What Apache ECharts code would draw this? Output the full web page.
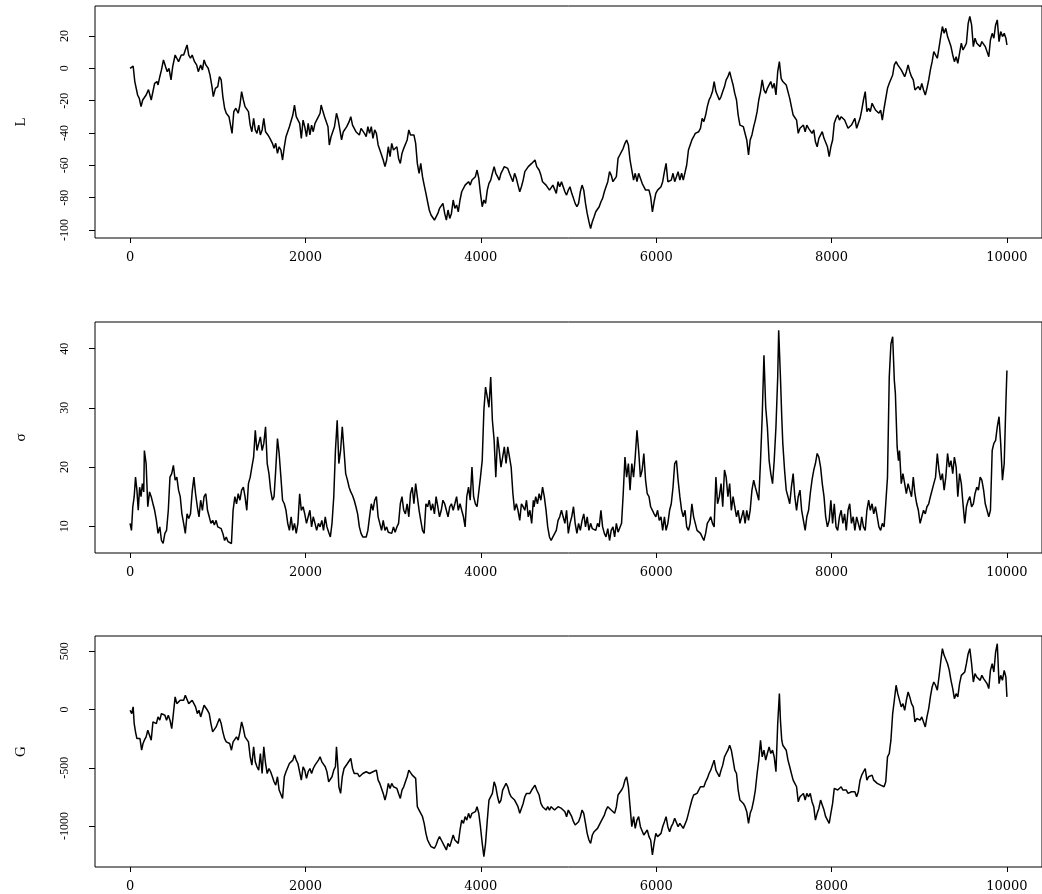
<!DOCTYPE html>
<html>
<head>
<meta charset="utf-8">
<script src="https://cdn.jsdelivr.net/npm/echarts@6/dist/echarts.min.js"></script>
<style>
html,body{margin:0;padding:0;background:#fff;}
#chart{width:1042px;height:894px;}
</style>
</head>
<body>
<div id="chart"></div>
<script>
// ---- data: [index, value] ----
const seriesL = [[0,0],[19,-1],[35,1.4],[54,-8.2],[86,-16.5],[105,-18.6],[125,-23.7],[144,-19.6],[183,-16.5],[210,-13.2],[241,-19.6],[280,-9.3],[307,-8.2],[319,-10.3],[339,-5.2],[358,-1],[381,5.2],[405,1],[424,-2.1],[444,0],[467,-7.2],[486,1],[514,8.2],[533,6.2],[553,4.1],[584,8.2],[611,8.2],[630,11.3],[650,14.4],[669,8.2],[689,6.2],[708,8.2],[735,4.1],[759,2.1],[778,-2.1],[805,2.1],[825,-1],[844,5.2],[864,2.1],[891,0],[911,-4.1],[934,-11.3],[949,-17.5],[973,-12.4],[1000,-11.3],[1019,-5.2],[1039,-7.2],[1058,-17.5],[1078,-24.7],[1097,-27.8],[1128,-29.9],[1144,-29.9],[1163,-40.2],[1183,-26.8],[1206,-24.7],[1233,-27.8],[1253,-22.7],[1272,-14.4],[1292,-19.6],[1311,-23.7],[1331,-23.7],[1350,-26.8],[1370,-35.1],[1389,-39.2],[1409,-30.9],[1428,-38.1],[1447,-40.2],[1467,-35.1],[1486,-41.2],[1506,-38.1],[1525,-30.9],[1545,-39.2],[1572,-41.2],[1595,-43.3],[1623,-46.4],[1642,-49.5],[1661,-46.4],[1681,-52.6],[1700,-48.5],[1720,-50.5],[1739,-56.7],[1759,-48.5],[1778,-42.3],[1798,-41.2],[1817,-36.1],[1837,-35.1],[1856,-28.9],[1875,-22.7],[1895,-29.9],[1914,-28.9],[1934,-34],[1953,-43.3],[1973,-32],[1992,-36.1],[2012,-42.3],[2031,-34],[2051,-41.2],[2070,-35.1],[2089,-39.2],[2109,-34],[2128,-35.1],[2148,-29.9],[2167,-27.8],[2179,-22.7],[2195,-25.8],[2218,-29.9],[2233,-28.9],[2257,-36.1],[2272,-47.4],[2292,-42.3],[2311,-41.2],[2331,-36.1],[2354,-27.8],[2374,-32],[2393,-38.1],[2412,-44.3],[2432,-39.2],[2451,-39.2],[2471,-36.1],[2498,-33],[2517,-29.9],[2537,-35.1],[2556,-36.1],[2576,-39.2],[2595,-38.1],[2615,-41.2],[2634,-37.1],[2654,-37.1],[2673,-40.2],[2693,-42.3],[2712,-36.1],[2731,-40.2],[2751,-36.1],[2770,-43.3],[2790,-38.1],[2809,-40.2],[2829,-47.4],[2848,-48.5],[2868,-53.6],[2887,-56.7],[2907,-60.8],[2926,-56.7],[2945,-48.5],[2965,-54.6],[2984,-46.4],[3004,-50.5],[3023,-51.5],[3043,-48.5],[3062,-55.7],[3082,-58.8],[3101,-52.6],[3121,-49.5],[3140,-48.5],[3160,-44.3],[3179,-38.1],[3198,-41.2],[3218,-42.3],[3237,-41.2],[3257,-46.4],[3276,-58.8],[3296,-64.9],[3315,-58.8],[3335,-67],[3354,-72.2],[3374,-77.3],[3393,-82.5],[3412,-87.6],[3432,-90.7],[3451,-89.7],[3471,-93.8],[3490,-91.8],[3510,-89.7],[3529,-86.6],[3549,-87.6],[3568,-83.5],[3588,-89.7],[3607,-93.8],[3626,-87.6],[3646,-92.8],[3665,-89.7],[3685,-81.4],[3704,-86.6],[3724,-84.5],[3743,-88.7],[3763,-81.4],[3782,-76.3],[3802,-75.3],[3821,-72.2],[3840,-73.2],[3860,-70.1],[3879,-72.2],[3899,-69.1],[3918,-69.1],[3938,-67],[3957,-62.9],[3977,-68],[3996,-77.3],[4016,-85.6],[4035,-81.4],[4054,-83.5],[4074,-75.3],[4093,-71.1],[4113,-69.1],[4132,-64.9],[4152,-60.8],[4171,-64.9],[4191,-67],[4210,-69.1],[4230,-64.9],[4249,-62.9],[4268,-60.8],[4288,-59.8],[4307,-61.9],[4327,-64.9],[4346,-66],[4366,-70.1],[4385,-64.9],[4405,-68],[4424,-72.2],[4444,-76.3],[4463,-73.2],[4483,-69.1],[4502,-63.9],[4521,-62.9],[4541,-60.8],[4560,-59.8],[4580,-58.8],[4599,-57.7],[4618,-56.7],[4638,-60.8],[4665,-62.9],[4685,-66],[4704,-70.1],[4744,-72.2],[4783,-75.3],[4802,-76.3],[4822,-72.2],[4861,-77.3],[4881,-70.1],[4900,-73.2],[4920,-70.1],[4959,-76.3],[4978,-78.4],[4998,-75.3],[5017,-73.2],[5037,-77.3],[5057,-80.4],[5076,-83.5],[5096,-85.6],[5115,-83.5],[5135,-76.3],[5155,-72.2],[5174,-75.3],[5194,-83.5],[5213,-89.7],[5233,-94.8],[5252,-99],[5272,-94.8],[5292,-91.8],[5311,-88.7],[5331,-87.6],[5350,-85.6],[5370,-82.5],[5389,-80.4],[5409,-76.3],[5428,-73.2],[5448,-70.1],[5468,-63.9],[5487,-66],[5507,-70.1],[5526,-70.1],[5546,-67],[5565,-55.7],[5585,-53.6],[5605,-54.6],[5624,-49.5],[5644,-46.4],[5663,-44.3],[5683,-47.4],[5702,-56.7],[5722,-62.9],[5742,-69.1],[5761,-64.9],[5781,-70.1],[5800,-64.9],[5820,-68],[5840,-71.1],[5859,-73.2],[5879,-75.3],[5898,-74.2],[5918,-75.3],[5937,-79.4],[5957,-88.7],[5976,-82.5],[5996,-77.3],[6016,-75.3],[6035,-76.3],[6055,-73.2],[6074,-70.1],[6094,-63.9],[6113,-58.8],[6133,-70.1],[6153,-71.1],[6172,-69.1],[6192,-64.9],[6211,-70.1],[6231,-67],[6250,-63.9],[6270,-69.1],[6290,-64.9],[6309,-69.1],[6329,-68],[6348,-59.8],[6368,-50.5],[6387,-49.5],[6407,-44.3],[6427,-42.3],[6446,-40.2],[6466,-41.2],[6485,-39.2],[6505,-37.1],[6524,-30.9],[6544,-33],[6564,-28.9],[6583,-23.7],[6603,-19.6],[6622,-17.5],[6642,-14.4],[6661,-8.2],[6681,-14.4],[6700,-15.5],[6720,-19.6],[6740,-17.5],[6759,-14.4],[6779,-11.3],[6798,-7.2],[6818,-5.2],[6838,-2.1],[6857,-6.2],[6877,-10.3],[6896,-15.5],[6916,-19.6],[6935,-28.9],[6955,-35.1],[6975,-34],[6994,-36.1],[7014,-37.1],[7033,-44.3],[7053,-53.6],[7072,-44.3],[7092,-41.2],[7112,-36.1],[7131,-32],[7151,-26.8],[7170,-19.6],[7190,-14.4],[7209,-7.2],[7229,-13.4],[7249,-15.5],[7268,-12.4],[7288,-11.3],[7307,-8.2],[7327,-12.4],[7346,-9.3],[7366,-16.5],[7386,-2.1],[7405,4.1],[7425,-6.2],[7444,-8.2],[7483,-10.3],[7503,-11.3],[7523,-18.6],[7542,-23.7],[7562,-28.9],[7581,-29.9],[7601,-32],[7620,-40.2],[7640,-37.1],[7659,-37.1],[7679,-35.1],[7699,-39.2],[7718,-35.1],[7738,-37.1],[7757,-36.1],[7777,-40.2],[7797,-38.1],[7816,-45.4],[7836,-48.5],[7855,-43.3],[7875,-42.3],[7894,-39.2],[7914,-43.3],[7933,-44.3],[7953,-48.5],[7973,-54.6],[7992,-48.5],[8012,-44.3],[8031,-34],[8051,-30.9],[8070,-28.9],[8090,-32],[8110,-29.9],[8129,-28.9],[8149,-32],[8168,-30.9],[8188,-37.1],[8207,-38.1],[8227,-35.1],[8247,-33],[8266,-30.9],[8286,-37.1],[8305,-37.1],[8325,-30.9],[8344,-25.8],[8364,-19.6],[8384,-14.4],[8403,-26.8],[8423,-24.7],[8442,-26.8],[8462,-21.6],[8481,-23.7],[8501,-25.8],[8521,-25.8],[8540,-27.8],[8560,-25.8],[8579,-32],[8599,-24.7],[8618,-24.7],[8638,-12.4],[8658,-9.3],[8677,-10.3],[8697,-4.1],[8716,2.1],[8736,4.1],[8755,2.1],[8775,1],[8795,-1],[8814,-2.1],[8834,-5.2],[8853,-2.1],[8873,2.1],[8892,-2.1],[8912,-5.2],[8932,-7.2],[8951,-13.4],[8971,-12.4],[8990,-11.3],[9010,-13.4],[9029,-9.3],[9049,-13.4],[9069,-16.5],[9088,-12.4],[9108,-7.2],[9127,-1],[9147,4.1],[9166,10.3],[9186,11.3],[9206,6.2],[9225,12.4],[9245,19.6],[9264,25.8],[9284,21.6],[9303,24.7],[9323,19.6],[9343,16.5],[9362,13.4],[9382,8.2],[9401,4.1],[9421,7.2],[9440,3.1],[9460,9.3],[9480,15.5],[9499,11.3],[9519,13.4],[9538,15.5],[9558,27.8],[9577,32],[9597,26.8],[9617,13.4],[9636,18.6],[9656,15.5],[9675,16.5],[9695,13.4],[9714,16.5],[9734,15.5],[9753,13.4],[9773,10.3],[9793,7.2],[9812,17.5],[9832,21.6],[9851,18.6],[9871,26.8],[9890,29.9],[9910,16.5],[9929,22.7],[9949,19.6],[9969,21.6],[9988,18.6],[10000,14.4]];

const seriesSigma = [[0,10.5],[16,9.3],[31,13.3],[47,15],[62,18.3],[78,16.1],[93,12.7],[109,16.6],[125,15],[140,17.2],[156,15.8],[163,22.8],[183,20.6],[202,13.3],[222,15.8],[241,15],[261,13.8],[280,12.7],[300,11],[319,8.8],[339,9.9],[358,7.6],[377,7.1],[397,8.8],[416,9.3],[436,12.7],[455,18.3],[475,18.9],[494,20.3],[514,17.8],[533,18.3],[553,16.1],[572,15],[591,12.1],[611,10.5],[630,8.8],[650,12.1],[669,11.3],[689,12.1],[708,15.8],[728,18.3],[747,15.5],[767,13.3],[786,11.6],[805,14.4],[825,12.7],[844,15],[864,15.5],[883,12.7],[903,11.6],[922,10.5],[942,11],[961,10.2],[981,11],[1000,9.9],[1019,9.9],[1039,9.6],[1058,8.8],[1078,7.6],[1097,8.2],[1117,7.4],[1136,7.6],[1156,7.1],[1175,12.7],[1195,15],[1214,13.8],[1233,15.5],[1253,14.4],[1272,16.1],[1292,16.6],[1311,15],[1331,12.7],[1350,17.2],[1370,18.3],[1389,20],[1409,21.7],[1428,26.2],[1447,22.8],[1467,24],[1486,25.1],[1506,22.8],[1525,24],[1545,26.8],[1564,20.6],[1584,18.9],[1603,16.1],[1623,14.4],[1642,15],[1661,19.5],[1681,24.8],[1700,22.3],[1720,18.3],[1739,14.4],[1759,13.8],[1778,12.7],[1798,10.5],[1817,9.3],[1837,11.6],[1856,9.3],[1875,10.5],[1895,8.8],[1914,10.5],[1934,15.5],[1953,12.7],[1973,13.3],[1992,12.1],[2012,10.5],[2031,11.6],[2051,12.7],[2070,9.9],[2089,11.6],[2109,10.5],[2128,9.3],[2148,10.5],[2167,9.9],[2187,11],[2206,9.3],[2226,11.6],[2245,9.9],[2265,9],[2284,8.2],[2303,10.5],[2323,15],[2342,22.8],[2362,27.9],[2381,20.6],[2401,22.8],[2420,26.8],[2440,22.8],[2459,18.9],[2479,17.8],[2498,16.6],[2517,15.8],[2537,15.2],[2556,14.4],[2576,13.3],[2595,12.1],[2615,9.9],[2634,8.8],[2654,8.2],[2673,8.5],[2693,8.2],[2712,9.3],[2731,11.6],[2751,13.8],[2770,12.7],[2790,14.4],[2809,15],[2829,11.6],[2848,10.5],[2868,9.3],[2887,11],[2907,9.3],[2926,9.9],[2945,9],[2965,9.3],[2984,8.8],[3004,9.9],[3023,9],[3043,9.9],[3062,10.5],[3082,13.8],[3101,15],[3121,12.7],[3140,12.1],[3160,13.8],[3179,11.6],[3198,15.5],[3218,16.6],[3237,13.8],[3257,17.2],[3276,15],[3296,12.7],[3315,11],[3335,9.3],[3354,8.8],[3374,13.8],[3393,13.3],[3412,14.4],[3432,12.7],[3451,13.8],[3471,12.1],[3490,15],[3510,13.3],[3529,11.6],[3549,12.7],[3568,14.4],[3588,13.8],[3607,12.7],[3626,11.6],[3646,13.3],[3665,13.8],[3685,12.7],[3704,13.8],[3724,15],[3743,12.7],[3763,13.8],[3782,12.7],[3802,11.6],[3821,9.9],[3840,15],[3860,16.6],[3879,14.4],[3899,20],[3918,15],[3938,13.8],[3957,13.3],[3977,13.3],[3996,18.3],[4016,21.1],[4035,29.6],[4054,33.5],[4074,31.8],[4093,30.1],[4113,35.2],[4132,27.9],[4152,24.5],[4171,18.3],[4191,25.1],[4210,22.8],[4230,20],[4249,21.7],[4268,23.4],[4288,20.6],[4307,23.4],[4327,21.7],[4346,20],[4366,15.5],[4385,12.7],[4405,13.8],[4424,12.7],[4444,11],[4463,13.8],[4483,13.3],[4502,12.7],[4521,14.4],[4541,11.6],[4560,12.7],[4580,10.5],[4599,14.4],[4607,13.3],[4626,15],[4646,13.8],[4665,15.5],[4685,14.4],[4704,16.6],[4724,15],[4744,12.7],[4763,9.9],[4783,8.2],[4802,7.6],[4822,8.2],[4841,7.9],[4861,9.3],[4881,11],[4900,11.6],[4920,12.7],[4939,11.6],[4959,10.5],[4978,12.7],[4998,8.8],[5017,10.5],[5037,11.6],[5057,13.3],[5076,10.5],[5096,8.8],[5115,10.5],[5135,9.3],[5155,11],[5174,12.1],[5194,9.9],[5213,11.6],[5233,9.3],[5252,10.5],[5272,9.6],[5292,9.9],[5311,9.3],[5331,10.5],[5350,9.9],[5370,12.7],[5389,9.9],[5409,8.8],[5428,8.2],[5448,9.6],[5468,7.6],[5487,9.3],[5507,9.9],[5526,8.2],[5546,10.5],[5565,9],[5585,9.3],[5605,10.5],[5624,15.5],[5644,21.7],[5663,18.3],[5683,20.6],[5702,16.1],[5722,20.6],[5742,18.3],[5761,21.7],[5781,26.2],[5800,22.8],[5820,18.3],[5840,19.5],[5859,22.3],[5879,17.8],[5898,15.5],[5918,15],[5937,13.3],[5957,12.7],[5976,12.1],[5996,11.6],[6016,12.7],[6035,11],[6055,11.6],[6074,9.3],[6094,11.6],[6113,9.3],[6133,10.5],[6153,12.7],[6172,13.8],[6192,16.6],[6211,20.6],[6231,21.1],[6250,17.8],[6270,15],[6290,12.7],[6309,11.6],[6329,12.7],[6348,9.9],[6368,9.3],[6387,10.5],[6407,13.8],[6427,11.6],[6446,10.5],[6466,9.3],[6485,9.6],[6505,8.8],[6524,8.5],[6544,7.6],[6564,8.8],[6583,10.5],[6603,11],[6622,11.6],[6642,10.5],[6661,9.9],[6681,18.3],[6700,13.8],[6720,15],[6740,17.2],[6759,13.3],[6779,19.5],[6798,18.3],[6818,15],[6838,17.2],[6857,12.7],[6877,15],[6896,13.3],[6916,11.6],[6935,12.7],[6955,10.5],[6975,11.6],[6994,12.7],[7014,10.5],[7033,12.7],[7053,11],[7072,12.7],[7092,16.1],[7112,17.8],[7131,16.6],[7151,15.5],[7170,14.4],[7190,21.1],[7209,28.5],[7229,38.9],[7249,30.1],[7268,26.8],[7288,21.1],[7307,18.9],[7327,17.2],[7346,21.1],[7366,26.8],[7386,35.2],[7397,43.1],[7417,35.2],[7432,28.5],[7444,24],[7464,19.5],[7483,16.1],[7503,15],[7523,13.8],[7542,16.6],[7562,18.9],[7581,15],[7601,12.7],[7620,15],[7640,16.1],[7659,12.7],[7679,11],[7699,9.3],[7718,11.6],[7738,12.7],[7757,15.5],[7777,17.8],[7797,19.5],[7816,20.6],[7836,22.3],[7855,21.7],[7875,20],[7894,17.2],[7914,15],[7933,11.6],[7953,9.9],[7973,11],[7992,14.4],[8012,10.5],[8031,13.8],[8051,9.9],[8070,9.3],[8090,11.6],[8110,12.7],[8129,10.5],[8149,12.1],[8168,9.3],[8188,12.7],[8207,13.8],[8227,10.5],[8247,11.6],[8266,9.3],[8286,11.6],[8305,10.5],[8325,9.3],[8344,11.6],[8364,9.9],[8384,9.3],[8403,12.7],[8423,14.4],[8442,12.7],[8462,13.8],[8481,12.1],[8501,13.3],[8521,11.6],[8540,9.9],[8560,9.3],[8579,10.5],[8599,9.9],[8618,13.8],[8638,18.3],[8658,35.2],[8677,40.8],[8697,42],[8716,34.6],[8728,32.4],[8748,23.4],[8763,21.1],[8775,22.8],[8795,17.2],[8814,18.9],[8834,17.2],[8853,15.5],[8873,17.2],[8892,16.1],[8912,15],[8932,18.3],[8951,15.5],[8971,13.8],[8990,12.7],[9010,10.5],[9029,11.6],[9049,12.7],[9069,12.1],[9088,13.3],[9108,13.8],[9127,15],[9147,15],[9166,17.2],[9186,18.3],[9206,22.3],[9225,19.5],[9245,17.8],[9264,18.9],[9284,16.1],[9303,18.3],[9323,22.3],[9343,20],[9362,21.1],[9382,18.9],[9401,21.7],[9421,20],[9440,15],[9460,18.9],[9480,17.2],[9499,13.8],[9519,10.5],[9538,13.3],[9558,14.4],[9577,15],[9597,13.3],[9617,13.8],[9636,15.5],[9656,16.6],[9675,16.1],[9695,18.3],[9714,17.8],[9734,16.1],[9753,13.8],[9773,12.7],[9793,11.6],[9812,12.7],[9832,22.8],[9851,24],[9871,24.5],[9890,26.8],[9910,28.5],[9929,24],[9949,17.8],[9969,20.6],[9988,30.7],[10000,36.3]];

const seriesG = [[0,-6],[19,-34],[35,23],[47,-120],[62,-191],[78,-249],[93,-263],[113,-249],[132,-349],[148,-291],[163,-263],[183,-234],[202,-177],[222,-220],[241,-263],[261,-106],[280,-91],[300,-120],[319,-63],[339,-91],[358,-34],[377,-20],[397,-49],[416,-91],[436,-49],[455,-91],[475,-163],[494,-34],[514,109],[533,51],[553,66],[572,80],[591,94],[611,80],[630,123],[650,109],[669,51],[689,66],[708,80],[728,51],[747,23],[767,-34],[786,-6],[805,-63],[825,-49],[844,37],[864,23],[883,-6],[903,-34],[922,-120],[942,-191],[961,-177],[981,-149],[1000,-134],[1019,-77],[1039,-120],[1058,-191],[1078,-249],[1097,-277],[1117,-277],[1136,-291],[1156,-349],[1175,-277],[1195,-263],[1214,-234],[1233,-263],[1253,-191],[1272,-106],[1292,-163],[1311,-234],[1331,-249],[1350,-277],[1370,-406],[1389,-477],[1409,-320],[1428,-449],[1447,-491],[1467,-520],[1486,-377],[1506,-549],[1525,-320],[1545,-463],[1564,-549],[1584,-506],[1603,-534],[1623,-577],[1642,-620],[1661,-649],[1681,-577],[1700,-691],[1720,-706],[1739,-763],[1759,-577],[1778,-534],[1798,-520],[1817,-463],[1837,-477],[1856,-434],[1875,-391],[1895,-434],[1914,-463],[1934,-477],[1953,-606],[1973,-491],[1992,-520],[2012,-591],[2031,-534],[2051,-506],[2070,-549],[2089,-506],[2109,-477],[2128,-463],[2148,-434],[2167,-406],[2187,-449],[2206,-463],[2226,-491],[2245,-534],[2265,-620],[2284,-634],[2303,-577],[2323,-520],[2342,-491],[2354,-320],[2370,-491],[2381,-663],[2401,-720],[2420,-577],[2440,-506],[2459,-491],[2479,-463],[2498,-449],[2517,-420],[2537,-506],[2556,-549],[2576,-534],[2595,-549],[2615,-577],[2634,-563],[2654,-549],[2673,-549],[2693,-534],[2712,-520],[2731,-549],[2751,-563],[2770,-534],[2790,-549],[2809,-520],[2829,-606],[2848,-634],[2868,-649],[2887,-720],[2907,-777],[2926,-720],[2945,-634],[2965,-677],[2984,-634],[3004,-663],[3023,-649],[3043,-677],[3062,-720],[3082,-763],[3101,-691],[3121,-663],[3140,-620],[3160,-577],[3179,-520],[3198,-506],[3218,-563],[3237,-577],[3257,-591],[3276,-834],[3296,-863],[3315,-877],[3335,-920],[3354,-977],[3374,-1063],[3393,-1120],[3412,-1149],[3432,-1177],[3451,-1191],[3471,-1191],[3490,-1163],[3510,-1120],[3529,-1091],[3549,-1120],[3568,-1134],[3588,-1177],[3607,-1206],[3626,-1149],[3646,-1177],[3665,-1163],[3685,-1077],[3704,-1120],[3724,-1106],[3743,-1149],[3763,-1034],[3782,-949],[3802,-977],[3821,-920],[3840,-949],[3860,-891],[3879,-934],[3899,-891],[3918,-906],[3938,-877],[3957,-834],[3977,-891],[3996,-1006],[4016,-1149],[4035,-1263],[4054,-1149],[4074,-949],[4093,-777],[4113,-777],[4132,-720],[4152,-620],[4171,-663],[4191,-749],[4210,-806],[4230,-777],[4249,-691],[4268,-691],[4288,-634],[4307,-663],[4327,-720],[4346,-749],[4366,-734],[4385,-777],[4405,-806],[4424,-834],[4444,-891],[4463,-849],[4483,-806],[4502,-749],[4521,-720],[4541,-734],[4560,-720],[4580,-691],[4599,-677],[4618,-649],[4638,-691],[4665,-734],[4685,-806],[4704,-834],[4724,-849],[4744,-863],[4763,-834],[4783,-863],[4802,-834],[4822,-820],[4841,-863],[4861,-877],[4881,-834],[4900,-820],[4920,-849],[4939,-834],[4959,-877],[4978,-920],[4998,-863],[5017,-877],[5037,-920],[5057,-963],[5076,-991],[5096,-1006],[5115,-963],[5135,-920],[5155,-863],[5174,-891],[5194,-977],[5213,-1063],[5233,-1120],[5252,-1149],[5272,-1077],[5292,-1049],[5311,-1034],[5331,-1020],[5350,-1006],[5370,-963],[5389,-949],[5409,-906],[5428,-863],[5448,-834],[5468,-820],[5487,-863],[5507,-877],[5526,-891],[5546,-834],[5565,-734],[5585,-720],[5605,-691],[5624,-663],[5644,-606],[5663,-577],[5683,-663],[5702,-834],[5722,-1006],[5742,-920],[5761,-1020],[5781,-949],[5800,-920],[5820,-1006],[5840,-1020],[5859,-1077],[5879,-1063],[5898,-1034],[5918,-1091],[5937,-1120],[5957,-1249],[5976,-1149],[5996,-1063],[6016,-1091],[6035,-1077],[6055,-1063],[6074,-1006],[6094,-963],[6113,-920],[6133,-1006],[6153,-1049],[6172,-1006],[6192,-977],[6211,-934],[6231,-949],[6250,-1006],[6270,-977],[6290,-991],[6309,-1020],[6329,-1006],[6348,-949],[6368,-891],[6387,-834],[6407,-777],[6427,-734],[6446,-734],[6466,-720],[6485,-706],[6505,-663],[6524,-649],[6544,-663],[6564,-620],[6583,-591],[6603,-549],[6622,-520],[6642,-477],[6661,-434],[6681,-520],[6700,-506],[6720,-577],[6740,-520],[6759,-477],[6779,-406],[6798,-377],[6818,-349],[6838,-306],[6857,-349],[6877,-434],[6896,-520],[6916,-549],[6935,-691],[6955,-777],[6975,-791],[6994,-806],[7014,-834],[7033,-877],[7053,-977],[7072,-891],[7092,-849],[7112,-777],[7131,-691],[7151,-549],[7170,-434],[7190,-263],[7209,-406],[7229,-349],[7249,-434],[7268,-377],[7288,-320],[7307,-377],[7327,-349],[7346,-406],[7366,-534],[7386,-120],[7405,137],[7417,-91],[7432,-263],[7444,-306],[7464,-320],[7483,-349],[7503,-434],[7523,-491],[7542,-549],[7562,-606],[7581,-634],[7601,-663],[7620,-791],[7640,-749],[7659,-734],[7679,-720],[7699,-777],[7718,-720],[7738,-749],[7757,-720],[7777,-791],[7797,-834],[7816,-949],[7836,-891],[7855,-849],[7875,-777],[7894,-820],[7914,-863],[7933,-920],[7953,-934],[7973,-977],[7992,-891],[8012,-806],[8031,-677],[8051,-663],[8070,-691],[8090,-677],[8110,-663],[8129,-691],[8149,-677],[8168,-691],[8188,-720],[8207,-734],[8227,-706],[8247,-691],[8266,-706],[8286,-749],[8305,-706],[8325,-606],[8344,-563],[8364,-534],[8384,-506],[8403,-606],[8423,-577],[8442,-591],[8462,-563],[8481,-606],[8501,-620],[8521,-634],[8540,-620],[8560,-649],[8579,-634],[8599,-663],[8618,-620],[8638,-406],[8658,-377],[8677,-263],[8697,-34],[8716,80],[8736,209],[8755,137],[8775,123],[8795,23],[8814,51],[8834,-6],[8853,80],[8873,151],[8892,109],[8912,51],[8932,23],[8951,-106],[8971,-77],[8990,-91],[9010,-91],[9029,-63],[9049,-106],[9069,-149],[9088,-63],[9108,9],[9127,109],[9147,194],[9166,237],[9186,209],[9206,166],[9225,280],[9245,409],[9264,523],[9284,466],[9303,451],[9323,394],[9343,337],[9362,251],[9382,180],[9401,94],[9421,137],[9440,109],[9460,223],[9480,294],[9499,294],[9519,323],[9538,394],[9558,480],[9577,523],[9597,394],[9617,237],[9636,309],[9656,280],[9675,294],[9695,251],[9714,294],[9734,266],[9753,251],[9773,223],[9793,180],[9812,337],[9832,394],[9851,323],[9871,494],[9890,566],[9910,223],[9929,294],[9949,251],[9969,337],[9988,280],[10000,109]];

const xTicks = [0, 2000, 4000, 6000, 8000, 10000];
const lTicks = [-100, -80, -60, -40, -20, 0, 20];
const sigmaTicks = [10, 20, 30, 40];
const gTicks = [-1000, -500, 0, 500];
const panelNames = ['L', 'σ', 'G'];

// ---- chart ----
const chart = echarts.init(document.getElementById('chart'), null, {renderer: 'canvas'});
const grids = [
  {left: 95, top: 6, width: 955, height: 232},
  {left: 95, top: 322, width: 955, height: 231},
  {left: 95, top: 636, width: 955, height: 231}
];
const yRanges = [[-104.9, 38.5], [5.49, 44.5], [-1352, 632]];
const yTickSets = [lTicks, sigmaTicks, gTicks];
const dataSets = [seriesL, seriesSigma, seriesG];

const option = {
  backgroundColor: '#ffffff',
  animation: false,
  grid: grids.map(g => Object.assign({show: true, borderColor: '#000', borderWidth: 1, backgroundColor: 'transparent', containLabel: false}, g)),
  xAxis: grids.map((g, i) => ({
    type: 'value', gridIndex: i, min: -400, max: 10400, position: 'bottom',
    axisLine: {show: false, onZero: false},
    splitLine: {show: false},
    axisTick: {show: true, length: 5, lineStyle: {color: '#000', width: 1}, customValues: xTicks},
    axisLabel: {show: true, customValues: xTicks, margin: 13, color: '#000',
      fontFamily: 'DejaVu Serif', fontSize: 13, formatter: v => String(v)}
  })),
  yAxis: grids.map((g, i) => ({
    type: 'value', gridIndex: i, min: yRanges[i][0], max: yRanges[i][1], position: 'left',
    name: panelNames[i], nameLocation: 'middle', nameGap: 66,
    nameTextStyle: {fontFamily: 'Liberation Serif', fontSize: 15, color: '#000'},
    axisLine: {show: false, onZero: false},
    splitLine: {show: false},
    axisTick: {show: true, length: 6, lineStyle: {color: '#000', width: 1}, customValues: yTickSets[i]},
    axisLabel: {show: true, customValues: yTickSets[i], rotate: 90, margin: 24, color: '#000',
      fontFamily: 'Liberation Serif', fontSize: 12, formatter: v => String(v)}
  })),
  series: dataSets.map((d, i) => ({
    type: 'line', xAxisIndex: i, yAxisIndex: i, data: d,
    showSymbol: false, symbol: 'none', sampling: null,
    lineStyle: {color: '#000', width: 1.5},
    silent: true
  }))
};
chart.setOption(option);
</script>
</body>
</html>
